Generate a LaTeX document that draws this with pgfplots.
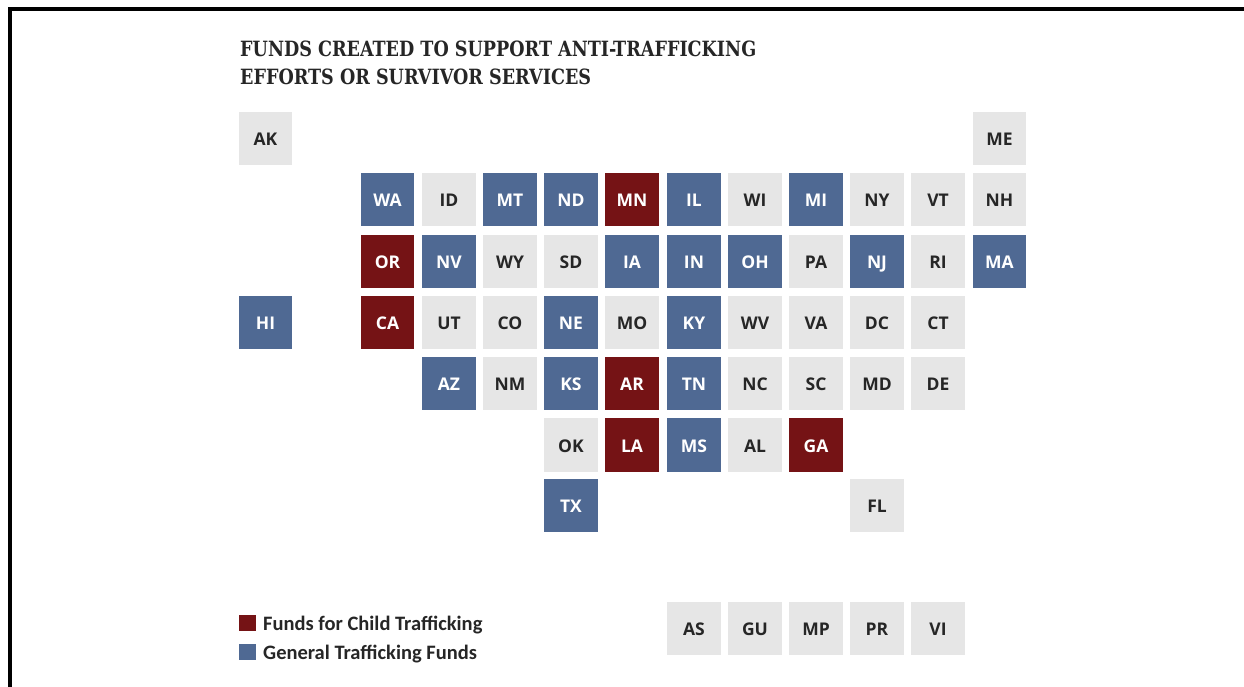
\documentclass[border=0pt]{standalone}
\usepackage{pgfplots}
\usepackage{fontspec}
\pgfplotsset{compat=1.18}
\setmainfont{Open Sans}
\newfontfamily\titlefont[FakeStretch=0.93]{DejaVu Serif Condensed}
\newfontfamily\legendfont{Carlito}
\definecolor{tblue}{HTML}{4F6993}
\definecolor{tred}{HTML}{751315}
\definecolor{tgrey}{HTML}{E6E6E6}
\definecolor{tink}{HTML}{262626}
\pgfplotstableread{
x y s
449 199.5 ID
755 199.5 WI
877 199.5 NY
938 199.5 VT
999.5 199.5 NH
265.5 138.5 AK
999.5 138.5 ME
510 261.5 WY
571 261.5 SD
816 261.5 PA
938 261.5 RI
449 322.5 UT
510 322.5 CO
632 322.5 MO
755 322.5 WV
816 322.5 VA
877 322.5 DC
938 322.5 CT
510 383.5 NM
755 383.5 NC
816 383.5 SC
877 383.5 MD
938 383.5 DE
571 445 OK
755 445 AL
877 505.5 FL
694 628.5 AS
755 628.5 GU
816 628.5 MP
877 628.5 PR
938 628.5 VI
}\greytiles
\pgfplotstableread{
x y s
387.5 199.5 WA
510 199.5 MT
571 199.5 ND
694 199.5 IL
816 199.5 MI
449 261.5 NV
632 261.5 IA
694 261.5 IN
755 261.5 OH
877 261.5 NJ
999.5 261.5 MA
265.5 322.5 HI
571 322.5 NE
694 322.5 KY
449 383.5 AZ
571 383.5 KS
694 383.5 TN
694 445 MS
571 505.5 TX
}\bluetiles
\pgfplotstableread{
x y s
632 199.5 MN
387.5 261.5 OR
387.5 322.5 CA
632 383.5 AR
632 445 LA
816 445 GA
}\redtiles
\pgfplotstableread{
x y
247.5 623
}\legred
\pgfplotstableread{
x y
247.5 652
}\legblue
\begin{document}
\begin{tikzpicture}[x=1pt,y=1pt]
\useasboundingbox (0,0) rectangle (1244,687);
\begin{axis}[
  at={(0,0)},anchor=south west,
  scale only axis,width=1244pt,height=687pt,
  xmin=0,xmax=1244,ymin=0,ymax=687,y dir=reverse,
  hide axis,clip=false,
  tile/.style={only marks,mark=square*,mark size=26.2pt,
    point meta=explicit symbolic,
    nodes near coords={\pgfplotspointmeta},
    nodes near coords style={anchor=center,inner sep=0pt,text height=12.5pt,text depth=0pt,yshift=-0.8pt,font=\fontsize{17.5}{17.5}\selectfont\bfseries,text=#1}},
]
\addplot[tile=tink,mark options={draw=tgrey,fill=tgrey,line width=0pt}] table[x=x,y=y,meta=s]{\greytiles};
\addplot[tile=white,mark options={draw=tblue,fill=tblue,line width=0pt}] table[x=x,y=y,meta=s]{\bluetiles};
\addplot[tile=white,mark options={draw=tred,fill=tred,line width=0pt}] table[x=x,y=y,meta=s]{\redtiles};
\addplot[only marks,mark=square*,mark size=7.7pt,mark options={draw=tred,fill=tred,line width=0pt}] table[x=x,y=y]{\legred};
\addplot[only marks,mark=square*,mark size=7.7pt,mark options={draw=tblue,fill=tblue,line width=0pt}] table[x=x,y=y]{\legblue};
\node[anchor=base west,inner sep=0pt,text=tink,font=\fontsize{21}{21}\selectfont\titlefont\bfseries] at (axis cs:240,57) {FUNDS CREATED TO SUPPORT ANTI-TRAFFICKING};
\node[anchor=base west,inner sep=0pt,text=tink,font=\fontsize{21}{21}\selectfont\titlefont\bfseries] at (axis cs:240,85) {EFFORTS OR SURVIVOR SERVICES};
\node[anchor=base west,inner sep=0pt,text=tink,font=\fontsize{20.5}{20.5}\selectfont\legendfont\bfseries] at (axis cs:263,630) {Funds for Child Trafficking};
\node[anchor=base west,inner sep=0pt,text=tink,font=\fontsize{20.5}{20.5}\selectfont\legendfont\bfseries] at (axis cs:263,659) {General Trafficking Funds};
\draw[black,line width=4pt] (axis cs:10,687) -- (axis cs:10,9) -- (axis cs:1244,9);
\end{axis}
\end{tikzpicture}
\end{document}
